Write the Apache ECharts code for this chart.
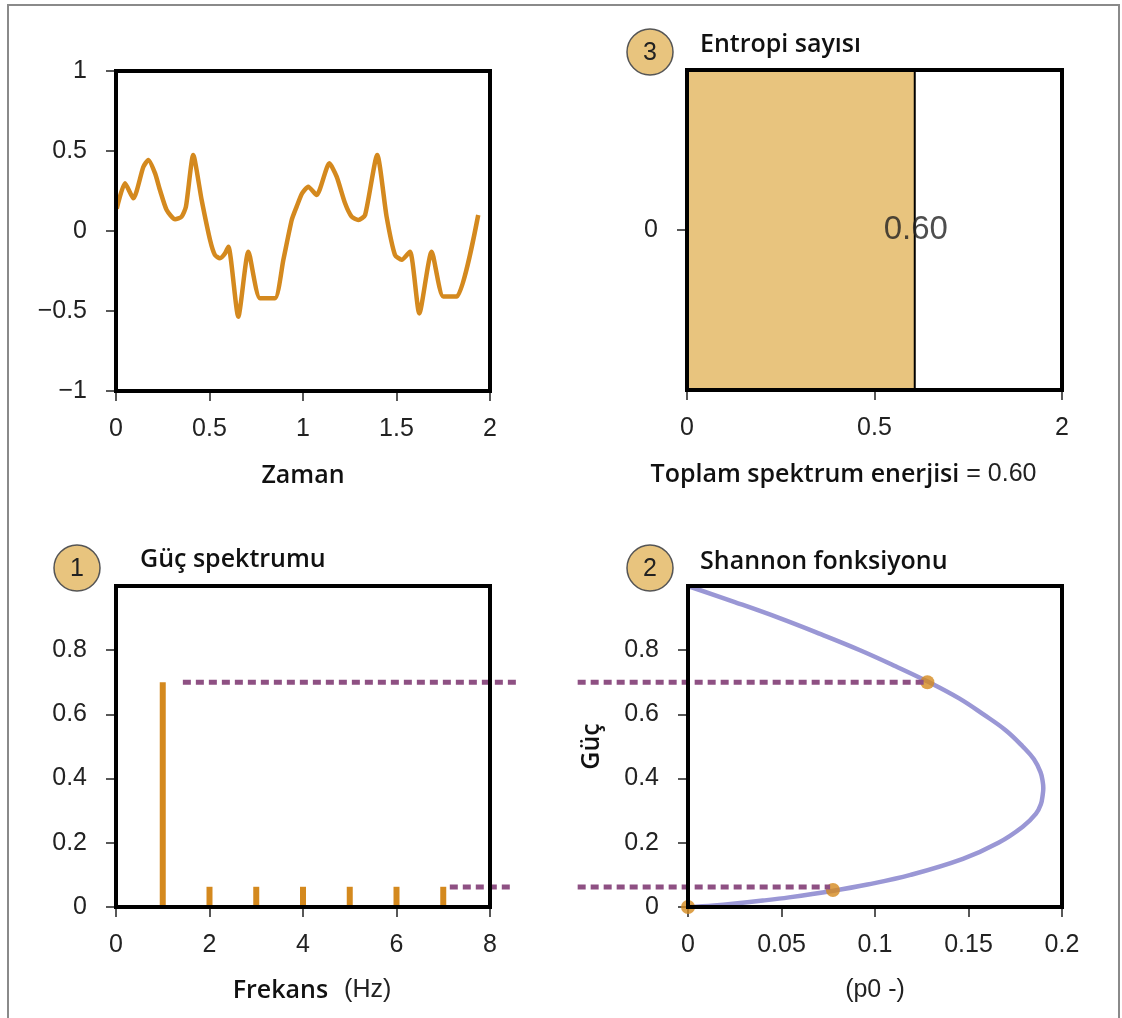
<!DOCTYPE html>
<html>
<head>
<meta charset="utf-8">
<script src="https://cdn.jsdelivr.net/npm/echarts@6/dist/echarts.min.js"></script>
<style>
html,body{margin:0;padding:0;background:#fff;}
#c{width:1122px;height:1018px;}
</style>
</head>
<body>
<div id="c"></div>
<script>
// ---------- data ----------
// Panel A: time signal
const signalTime  = [0.004,0.048,0.093,0.146,0.173,0.209,0.235,0.271,0.316,0.351,0.374,0.413,0.458,0.503,0.529,0.556,0.583,0.601,0.654,0.708,0.770,0.850,0.895,0.940,0.966,0.995,1.028,1.073,1.141,1.180,1.225,1.260,1.296,1.332,1.397,1.447,1.492,1.528,1.572,1.622,1.688,1.750,1.822,1.937];
const signalValue = [0.14,0.298,0.204,0.40,0.444,0.36,0.256,0.131,0.073,0.09,0.152,0.475,0.194,-0.056,-0.15,-0.17,-0.14,-0.098,-0.536,-0.129,-0.42,-0.42,-0.18,0.07,0.152,0.235,0.277,0.225,0.423,0.34,0.173,0.09,0.069,0.10,0.475,0.09,-0.15,-0.18,-0.129,-0.515,-0.129,-0.41,-0.41,0.10];
const timeTickLabels = ['0','0.5','1','1.5','2'];
const ampTickLabels = {'-1':'\u22121','-0.5':'\u22120.5','0':'0','0.5':'0.5','1':'1'};

// Panel B: entropy bar
const entropyCategory = ['0'];
const entropyValue = [0.61];
const entropyText = '0.60';
const entropyTickLabels = ['0','0.5','2'];
const totalEnergyText = '0.60';

// Panel C: power spectrum
const freqs = [1,2,3,4,5,6,7];
const powers = [0.70,0.063,0.063,0.063,0.063,0.063,0.063];
const powerTicks = [0,0.2,0.4,0.6,0.8];

// Panel D: Shannon function (x = p0 term, y = power)
const shannonPower = [1.0,0.95,0.9,0.85,0.8,0.75,0.7,0.65,0.6,0.55,0.5,0.46,0.42,0.39,0.37,0.35,0.32,0.29,0.25,0.2,0.15,0.1,0.07,0.05,0.03,0.02,0.01,0.005,0.0];
const shannonP0    = [0.0,0.025,0.049,0.071,0.092,0.111,0.129,0.145,0.158,0.170,0.179,0.185,0.1885,0.1897,0.190,0.1897,0.1887,0.186,0.179,0.166,0.147,0.119,0.096,0.077,0.054,0.040,0.024,0.014,0.0];
const dotsP0    = [0, 0.0775, 0.128];
const dotsPower = [0, 0.053, 0.70];

// guide (dotted) lines
const guideLeftUpperX  = [1.43, 8.58];
const guideLeftLowerX  = [7.14, 8.47];
const guideRightUpperX = [-0.059, 0.126];
const guideRightLowerX = [-0.059, 0.076];
const guideUpperY = 0.70;
const guideLowerY = 0.062;

// ---------- layout ----------
const P = {
  A:{left:116, top:71, width:374, height:320},
  B:{left:687, top:70, width:375, height:320},
  C:{left:116, top:586, width:374, height:321},
  D:{left:688, top:586, width:374, height:321}
};
const ORANGE = '#D4891E', BEIGE = '#E8C47E', PURPLE = '#8E5083', LAV = '#9A97D5';
const SANS = 'Liberation Sans, Arial, sans-serif';
const tickFont = {fontFamily:SANS, fontSize:25, color:'#222'};
const titleFont = {fontFamily:'Open Sans, sans-serif', fontWeight:600, fontSize:25, color:'#111'};
const tick = {show:true, inside:false, length:10, lineStyle:{color:'#222', width:1.5}};
const noLine = {show:false, onZero:false};

function zip(a,b){return a.map((v,i)=>[v,b[i]]);}

const chart = echarts.init(document.getElementById('c'), null, {renderer:'canvas'});

const grids = ['A','B','C','D'].map(k=>Object.assign({containLabel:false, show:false}, P[k]));

const xAxes = [
  {gridIndex:0, type:'value', min:0, max:2, interval:0.5, axisLine:noLine, axisTick:tick, splitLine:{show:false},
   axisLabel:Object.assign({margin:26, formatter:v=>timeTickLabels[Math.round(v*2)]}, tickFont),
   name:'Zaman', nameLocation:'middle', nameGap:72, nameTextStyle:titleFont},
  {gridIndex:1, type:'value', min:0, max:1, interval:0.5, axisLine:noLine, axisTick:tick, splitLine:{show:false},
   axisLabel:Object.assign({margin:26, formatter:v=>entropyTickLabels[Math.round(v*2)]}, tickFont),
   name:'{a|Toplam spektrum enerjisi}{b|= '+totalEnergyText+'}', nameLocation:'middle', nameGap:72,
   nameTextStyle:{padding:[0,62,0,0], rich:{a:titleFont, b:{fontFamily:SANS, fontSize:25, color:'#222', padding:[0,0,0,7]}}}},
  {gridIndex:2, type:'value', min:0, max:8, interval:2, axisLine:noLine, axisTick:tick, splitLine:{show:false},
   axisLabel:Object.assign({margin:26}, tickFont),
   name:'{a|Frekans}{b|(Hz)}', nameLocation:'middle', nameGap:71,
   nameTextStyle:{padding:[0,0,0,18], rich:{a:titleFont, b:{fontFamily:SANS, fontSize:25, color:'#222', padding:[0,0,0,16]}}}},
  {gridIndex:3, type:'value', min:0, max:0.2, interval:0.05, axisLine:noLine, axisTick:tick, splitLine:{show:false},
   axisLabel:Object.assign({margin:26}, tickFont),
   name:'(p0 -)', nameLocation:'middle', nameGap:71,
   nameTextStyle:{fontFamily:SANS, fontSize:25, color:'#222'}}
];
const yAxes = [
  {gridIndex:0, type:'value', min:-1, max:1, interval:0.5, axisLine:noLine, axisTick:tick, splitLine:{show:false},
   axisLabel:Object.assign({margin:29, formatter:v=>ampTickLabels[String(v)]}, tickFont)},
  {gridIndex:1, type:'category', data:entropyCategory, axisLine:noLine,
   axisTick:Object.assign({alignWithLabel:true}, tick), splitLine:{show:false},
   axisLabel:Object.assign({margin:29}, tickFont)},
  {gridIndex:2, type:'value', min:0, max:1, interval:0.2, axisLine:noLine,
   axisTick:Object.assign({customValues:powerTicks}, tick), splitLine:{show:false},
   axisLabel:Object.assign({margin:29, customValues:powerTicks}, tickFont)},
  {gridIndex:3, type:'value', min:0, max:1, interval:0.2, axisLine:noLine,
   axisTick:Object.assign({customValues:powerTicks}, tick), splitLine:{show:false},
   axisLabel:Object.assign({margin:29, customValues:powerTicks}, tickFont),
   name:'Güç', nameLocation:'middle', nameGap:84, nameTextStyle:titleFont}
];

const series = [
  {type:'line', xAxisIndex:0, yAxisIndex:0, data:zip(signalTime, signalValue), showSymbol:false, smooth:0.2,
   lineStyle:{color:ORANGE, width:4.5}, silent:true},
  {type:'bar', xAxisIndex:1, yAxisIndex:1, data:entropyValue, barWidth:'100%',
   itemStyle:{color:BEIGE, borderColor:'#000', borderWidth:2}, silent:true},
  {type:'scatter', xAxisIndex:1, yAxisIndex:1, data:[[entropyValue[0], entropyCategory[0]]], symbolSize:1,
   itemStyle:{color:'rgba(0,0,0,0)'}, z:5,
   label:{show:true, position:'inside', formatter:entropyText, fontFamily:SANS, fontSize:33, color:'#222'}},
  {type:'bar', xAxisIndex:2, yAxisIndex:2, data:zip(freqs, powers), barWidth:6, itemStyle:{color:ORANGE}, silent:true},
  {type:'line', xAxisIndex:3, yAxisIndex:3, data:zip(shannonP0, shannonPower), showSymbol:false, smooth:0.4,
   lineStyle:{color:LAV, width:4.5}, silent:true, z:2},
  {type:'scatter', xAxisIndex:3, yAxisIndex:3, data:zip(dotsP0, dotsPower), symbolSize:14, clip:false,
   itemStyle:{color:ORANGE}, z:6, silent:true}
];

const boxes = ['A','B','C','D'].map(k=>({type:'rect', z:100, silent:true,
  shape:{x:P[k].left, y:P[k].top, width:P[k].width, height:P[k].height},
  style:{fill:'none', stroke:'#000', lineWidth:4}}));

const badge = (cx, cy, n) => ({type:'group', z:100, children:[
  {type:'circle', shape:{cx:cx, cy:cy, r:23}, style:{fill:BEIGE, stroke:'#555', lineWidth:1.5}},
  {type:'text', x:cx, y:cy+1, style:{text:n, fontFamily:SANS, fontSize:25, fill:'#222', align:'center', verticalAlign:'middle'}}
]});
const title = (x, y, t) => ({type:'text', z:100, x:x, y:y, style:{text:t, align:'left', verticalAlign:'middle', fill:'#111',
  font:'600 25px "Open Sans", sans-serif'}});

const graphic = [
  {type:'rect', z:0, silent:true, shape:{x:8, y:5, width:1111, height:1030}, style:{fill:'none', stroke:'#8a8a8a', lineWidth:2}},
  ...boxes,
  badge(650, 52, '3'), badge(77, 568, '1'), badge(650, 568, '2'),
  title(700, 45, 'Entropi sayısı'),
  title(140, 560, 'Güç spektrumu'),
  title(700, 562, 'Shannon fonksiyonu')
];

chart.setOption({animation:false, backgroundColor:'#fff', grid:grids, xAxis:xAxes, yAxis:yAxes, series:series, graphic:graphic});

// dotted guide lines, positioned through the axes' own scales (they run past the plot frames)
function guideLine(gridIndex, xs, y){
  const a = chart.convertToPixel({gridIndex:gridIndex}, [xs[0], y]);
  const b = chart.convertToPixel({gridIndex:gridIndex}, [xs[1], y]);
  return {type:'line', z:50, silent:true, shape:{x1:a[0], y1:a[1], x2:b[0], y2:b[1]},
          style:{stroke:PURPLE, lineWidth:5, lineDash:[8,5]}};
}
chart.setOption({graphic: graphic.concat([
  guideLine(2, guideLeftUpperX, guideUpperY),
  guideLine(2, guideLeftLowerX, guideLowerY),
  guideLine(3, guideRightUpperX, guideUpperY),
  guideLine(3, guideRightLowerX, guideLowerY)
])});
</script>
</body>
</html>
